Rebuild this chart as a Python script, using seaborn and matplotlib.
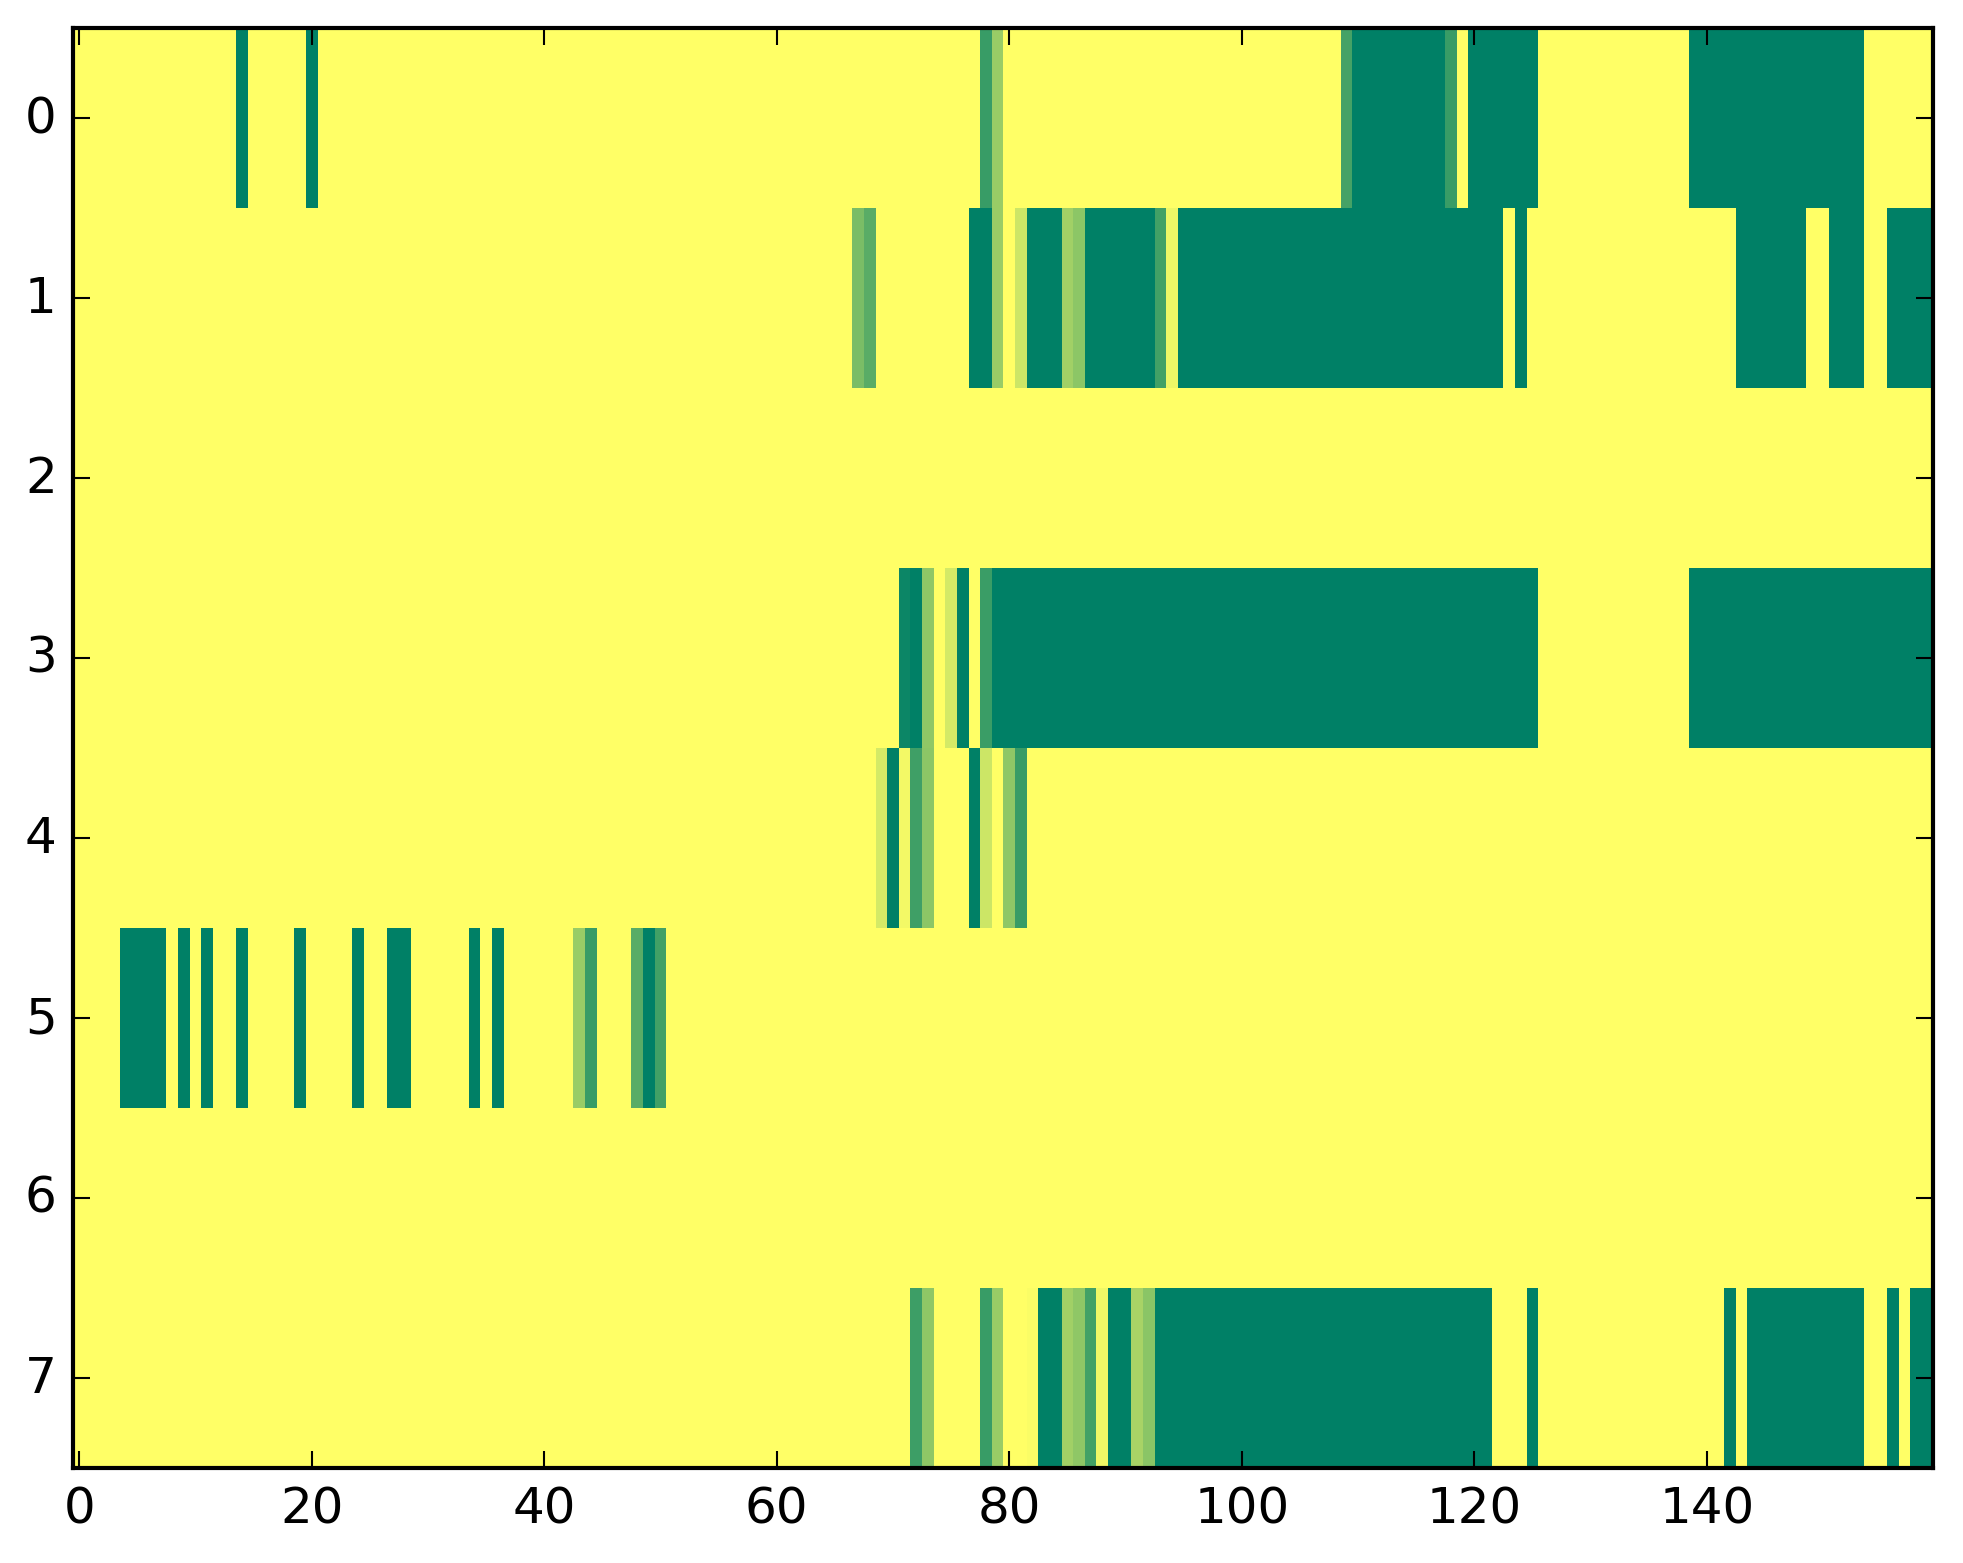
import numpy as np
import matplotlib
matplotlib.use('Agg')
import matplotlib.pyplot as plt
import seaborn as sb

# heatmap of 8 rows x 160 columns, values 0..1 (summer_r colormap)
# each row written as runs: (first column, column after last, value); cells not listed are 0
n_rows = 8
n_cols = 160

row0_runs = [(14, 15, 1.0), (20, 21, 1.0), (78, 79, 0.78), (79, 80, 0.40),
             (109, 110, 0.73), (110, 118, 1.0), (118, 119, 0.78), (120, 126, 1.0),
             (139, 154, 1.0)]
row1_runs = [(67, 68, 0.52), (68, 69, 0.65), (77, 79, 1.0), (79, 80, 0.40),
             (81, 82, 0.20), (82, 85, 1.0), (85, 86, 0.37), (86, 87, 0.45),
             (87, 93, 1.0), (93, 94, 0.74), (94, 95, 0.07), (95, 123, 1.0),
             (124, 125, 1.0), (143, 149, 1.0), (151, 154, 1.0), (156, 160, 1.0)]
row2_runs = []
row3_runs = [(71, 72, 0.95), (72, 73, 1.0), (73, 74, 0.44), (75, 76, 0.17),
             (76, 77, 1.0), (78, 79, 0.77), (79, 126, 1.0), (139, 160, 1.0)]
row4_runs = [(69, 70, 0.17), (70, 71, 1.0), (71, 72, 0.05), (72, 73, 0.75),
             (73, 74, 0.45), (77, 78, 1.0), (78, 79, 0.20), (80, 81, 0.44),
             (81, 82, 0.78)]
row5_runs = [(4, 8, 1.0), (9, 10, 1.0), (11, 12, 1.0), (14, 15, 1.0),
             (19, 20, 1.0), (24, 25, 1.0), (27, 29, 1.0), (34, 35, 1.0),
             (36, 37, 1.0), (43, 44, 0.40), (44, 45, 0.78), (48, 49, 0.65),
             (49, 50, 1.0), (50, 51, 0.74)]
row6_runs = []
row7_runs = [(72, 73, 0.76), (73, 74, 0.44), (78, 79, 0.78), (79, 80, 0.40),
             (82, 83, 0.02), (83, 85, 1.0), (85, 86, 0.37), (86, 87, 0.44),
             (87, 88, 0.74), (88, 89, 0.06), (89, 91, 1.0), (91, 92, 0.34),
             (92, 93, 0.46), (93, 122, 1.0), (125, 126, 1.0), (142, 143, 1.0),
             (144, 154, 1.0), (156, 157, 1.0), (158, 160, 1.0)]

x_tick_values = [0, 20, 40, 60, 80, 100, 120, 140]
y_tick_values = [0, 1, 2, 3, 4, 5, 6, 7]

all_runs = [row0_runs, row1_runs, row2_runs, row3_runs,
            row4_runs, row5_runs, row6_runs, row7_runs]
grid = np.zeros((n_rows, n_cols))
for r, runs in enumerate(all_runs):
    for start, stop, val in runs:
        grid[r, start:stop] = val

plt.style.use('classic')
fig = plt.figure(figsize=(1963 / 300, 1564 / 300), dpi=300)
ax = fig.add_axes([73.4 / 1963, 1 - 1469 / 1564, 1860 / 1963, 1440 / 1564])

sb.heatmap(grid, cmap='summer_r', vmin=0, vmax=1, cbar=False, ax=ax)

# put the matplotlib-style frame and ticks back
for side in ['top', 'bottom', 'left', 'right']:
    ax.spines[side].set_visible(True)
    ax.spines[side].set_linewidth(1.0)
    ax.spines[side].set_color('black')

ax.set_xticks([v + 0.5 for v in x_tick_values])
ax.set_xticklabels([str(v) for v in x_tick_values], rotation=0, fontsize=12)
ax.set_yticks([v + 0.5 for v in y_tick_values])
ax.set_yticklabels([str(v) for v in y_tick_values], rotation=0, fontsize=12, va='center')
ax.tick_params(direction='in', length=4, width=0.5, pad=4,
               top=True, bottom=True, left=True, right=True,
               labeltop=False, labelright=False, colors='black')
ax.set_xlim(0, n_cols)
ax.set_ylim(n_rows, 0)

fig.savefig('out.png', dpi=300, facecolor='white')
